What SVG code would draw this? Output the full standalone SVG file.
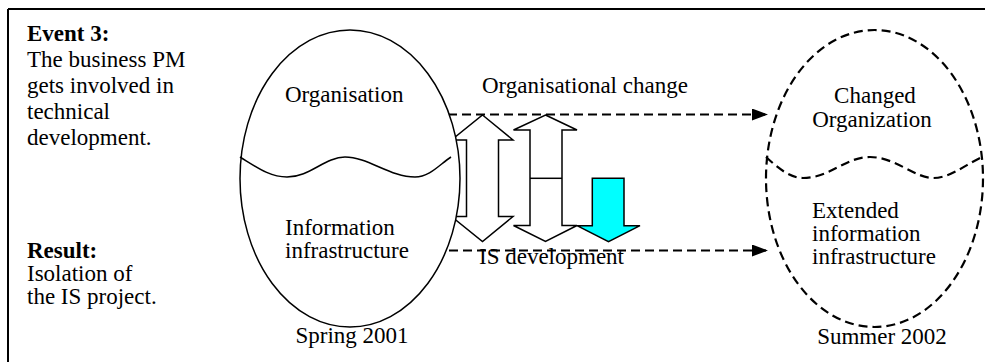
<svg xmlns="http://www.w3.org/2000/svg" width="985" height="362" viewBox="0 0 985 362">
  <style>
    text { font-family: "Liberation Serif", "Times New Roman", serif; font-size: 23px; fill: #000; }
    .b { font-weight: bold; }
    .mid { text-anchor: middle; }
    .solid { fill: #fff; stroke: #000; stroke-width: 1.5; }
    .dash { fill: none; stroke: #000; stroke-width: 2.2; stroke-dasharray: 9 5; }
    .blk { fill: none; stroke: #000; stroke-width: 1.5; }
  </style>
  <defs>
    <marker id="head" viewBox="0 0 16 12" refX="16" refY="6" markerWidth="16" markerHeight="12" markerUnits="userSpaceOnUse" orient="auto">
      <path d="M0,0 L16,6 L0,12 Z" fill="#000"/>
    </marker>
  </defs>

  <rect width="985" height="362" fill="#fff"/>

  <!-- frame: top and left rules -->
  <path d="M8,9 H985 M8,9 V362" fill="none" stroke="#000" stroke-width="2"/>

  <!-- side notes -->
  <g id="notes">
    <text x="27" y="41" class="b">Event 3:</text>
    <text x="27" y="67">The business PM</text>
    <text x="27" y="93">gets involved in</text>
    <text x="27" y="119">technical</text>
    <text x="27" y="145">development.</text>
    <text x="27" y="258" class="b">Result:</text>
    <text x="27" y="281">Isolation of</text>
    <text x="27" y="304">the IS project.</text>
  </g>

  <!-- connectors -->
  <g id="connectors">
    <line x1="448" y1="114.5" x2="768" y2="114.5" class="dash" marker-end="url(#head)"/>
    <line x1="449" y1="250.5" x2="768" y2="250.5" class="dash" marker-end="url(#head)"/>
    <text x="482" y="93">Organisational change</text>
    <text x="479" y="264">IS development</text>
  </g>

  <!-- block arrows between the two states -->
  <g id="arrows">
    <polygon class="solid" points="482.5,115 513,140 498.5,140 498.5,216.5 513,216.5 482.5,241.5 451.5,216.5 466.5,216.5 466.5,140 451.5,140"/>
    <polygon class="solid" points="545.5,115 577,130 562,130 562,225.5 577,225.5 545.5,241.5 513.5,225.5 530,225.5 530,130 513.5,130"/>
    <line x1="530" y1="178.3" x2="562" y2="178.3" class="blk"/>
    <polygon points="592.3,178.3 624,178.3 624,225.7 640,225.7 608.5,241.7 577,225.7 592.3,225.7" fill="#00ffff" stroke="#000" stroke-width="1.5"/>
  </g>

  <!-- state in spring 2001 -->
  <g id="spring2001">
    <ellipse cx="350" cy="178.5" rx="110" ry="148.5" fill="#fff" stroke="#000" stroke-width="1.5"/>
    <path d="M240,157 C258,168 270,177 287,177 C310,177 325,157 345,157 C368,157 390,177 415,177 C430,177 440,164 451,157" class="blk"/>
    <text x="285" y="102">Organisation</text>
    <text x="285" y="235">Information</text>
    <text x="285" y="258">infrastructure</text>
    <text x="352" y="343" class="mid">Spring 2001</text>
  </g>

  <!-- state in summer 2002 -->
  <g id="summer2002">
    <ellipse cx="874.5" cy="178.5" rx="108.5" ry="148.5" class="dash"/>
    <path d="M766,157 C778,168 790,178 803,178 C830,178 845,157 870,157 C895,157 915,178 933,178 C950,178 965,165 982,157" class="dash"/>
    <text x="875" y="103" class="mid">Changed</text>
    <text x="872" y="127" class="mid">Organization</text>
    <text x="812" y="218">Extended</text>
    <text x="812" y="241">information</text>
    <text x="812" y="264">infrastructure</text>
    <text x="882" y="344" class="mid">Summer 2002</text>
  </g>
</svg>
